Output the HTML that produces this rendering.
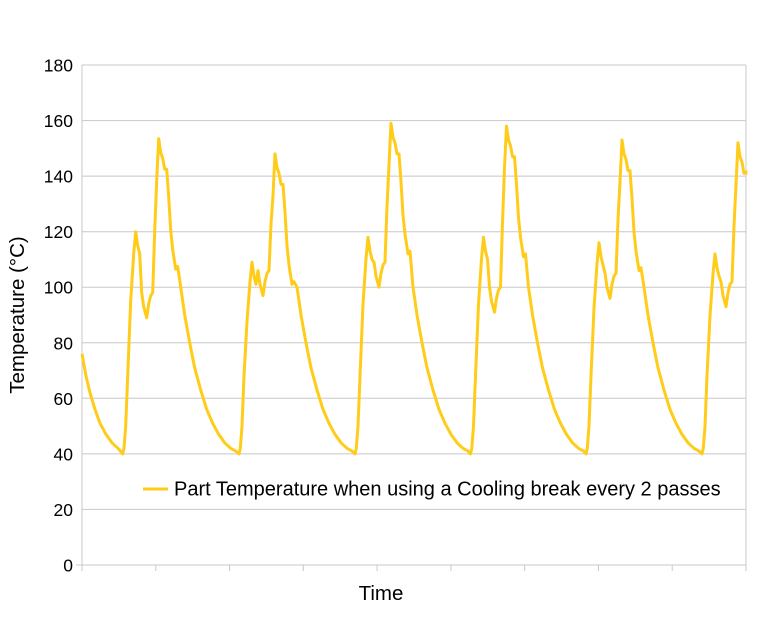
<!DOCTYPE html>
<html><head><meta charset="utf-8"><style>
html,body{margin:0;padding:0;background:#fff;}
svg{display:block;font-family:"Liberation Sans",sans-serif;}
</style></head><body>
<svg id="s" width="768" height="622" xmlns="http://www.w3.org/2000/svg">
<g id="grid" stroke="#c8c8c8" stroke-width="1"></g>
<g id="lbl" font-size="17.5" fill="#000" text-anchor="end"></g>
<path id="curve" fill="none" stroke="#ffcc1a" stroke-width="3" stroke-linejoin="round"/>
<line x1="143" y1="489" x2="168" y2="489" stroke="#ffcc1a" stroke-width="3"/>
<text x="174" y="495.5" font-size="20">Part Temperature when using a Cooling break every 2 passes</text>
<text x="381" y="600" font-size="20.5" text-anchor="middle">Time</text>
<text transform="translate(24,315) rotate(-90)" font-size="20.5" text-anchor="middle">Temperature (°C)</text>
</svg>
<script>
var ns="http://www.w3.org/2000/svg";
function Y(v){return 565-v*500/180;}
var g=document.getElementById('grid'),l=document.getElementById('lbl');
for(var i=0;i<=9;i++){var v=i*20,y=Y(v).toFixed(1);
var ln=document.createElementNS(ns,'line');ln.setAttribute('x1',i==0?76:82);ln.setAttribute('x2',746);ln.setAttribute('y1',y);ln.setAttribute('y2',y);g.appendChild(ln);
var t=document.createElementNS(ns,'text');t.setAttribute('x',73);t.setAttribute('y',+y+6.5);t.textContent=v;l.appendChild(t);}
var a=document.createElementNS(ns,'line');a.setAttribute('x1',82);a.setAttribute('x2',82);a.setAttribute('y1',65);a.setAttribute('y2',571);g.appendChild(a);
a=document.createElementNS(ns,'line');a.setAttribute('x1',746);a.setAttribute('x2',746);a.setAttribute('y1',65);a.setAttribute('y2',565);g.appendChild(a);
for(var i=1;i<=9;i++){var x=82+i*664/9;a=document.createElementNS(ns,'line');a.setAttribute('x1',x);a.setAttribute('x2',x);a.setAttribute('y1',565);a.setAttribute('y2',571);g.appendChild(a);}
var decay=[[58,100],[62,90],[67,80],[72,71],[78,63],[84,56],[90,51],[96,47],[102,44],[108,42],[113,41]];
function cyc(a,d,p){var r=[[0,40],[1.3,42],[3,50],[5,68],[8,40+(a-40)*0.69],[11,40+(a-40)*0.9],[13,a],[15,a-5],[17,a-8],[19,d+9],[21,d+4],[24,d],[26,d+5],[28,d+8],[30,d+9],[32,d+9+(p-d-9)*0.4],[34,p-15],[36,p],[38,p-5],[40,p-7],[42,p-11],[44,p-11],[46,p-21],[48,p-33],[50,p-40],[53,p-47],[55,p-46]];return r.concat(decay);}
var params=[[122.7,120,89,153.5],[239,109,97,148],[355,118,100,159],[470.5,118,91,158],[586,116,96,153],[702,112,93,152]];
var pts=[[82,76],[86,68],[90,62],[95,56],[100,51],[106,47],[112,44],[118,42]];
params.forEach(function(c){cyc(c[1],c[2],c[3]).forEach(function(q){var x=c[0]+q[0];if(x<=746)pts.push([x,q[1]]);});});
pts.push([746,142]);
document.getElementById('curve').setAttribute('d','M'+pts.map(function(p){return p[0].toFixed(1)+','+Y(p[1]).toFixed(1);}).join('L'));
</script>
</body></html>
